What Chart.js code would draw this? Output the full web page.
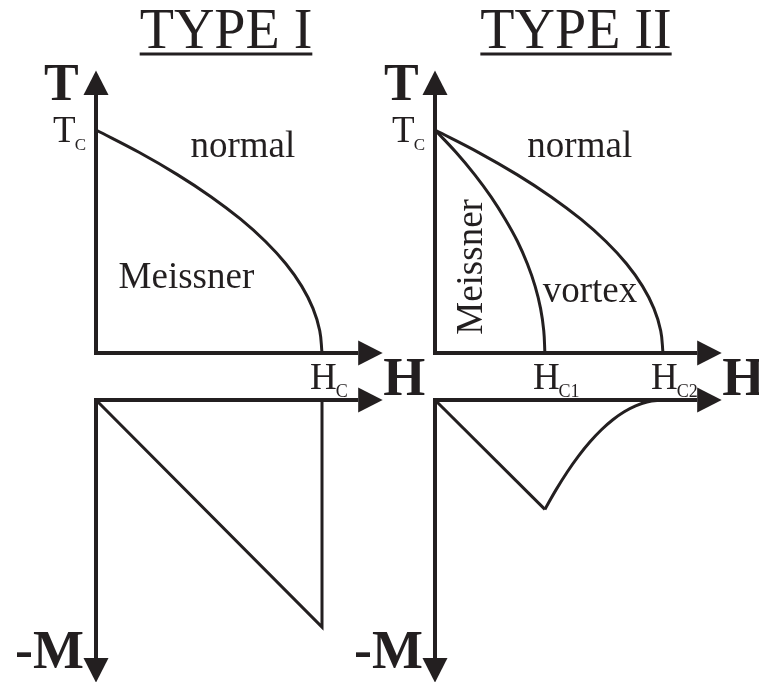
<!DOCTYPE html>
<html><head><meta charset="utf-8">
<script src="https://cdn.jsdelivr.net/npm/chart.js@4.4.1/dist/chart.umd.min.js"></script>
<style>html,body{margin:0;padding:0;background:#fff}#wrap{position:relative;width:759px;height:682px}</style>
</head><body><div id="wrap"><canvas id="c" width="759" height="682"></canvas></div>
<script>
// ---- Type I: critical field boundary (H in units of Hc, T in units of Tc)
const t1T = [1.00, 0.90, 0.80, 0.70, 0.60, 0.50, 0.40, 0.30, 0.20, 0.10, 0.00];
const t1H = [0.00, 0.19, 0.36, 0.51, 0.64, 0.75, 0.84, 0.91, 0.96, 0.99, 1.00];
// ---- Type II: Hc1 and Hc2 boundaries (H in units of Hc2)
const t2T   = [1.00, 0.90, 0.80, 0.70, 0.60, 0.50, 0.40, 0.30, 0.20, 0.10, 0.00];
const t2Hc2 = [0.00, 0.19, 0.36, 0.51, 0.64, 0.75, 0.84, 0.91, 0.96, 0.99, 1.00];
const t2Hc1 = [0.000, 0.092, 0.174, 0.246, 0.308, 0.362, 0.405, 0.439, 0.463, 0.477, 0.482];
// ---- Magnetization -M vs H
const m1H = [0, 1, 1];
const m1M = [0, 1, 0];
const m2LinH = [0, 0.482];
const m2LinM = [0, 0.482];
const m2CurH = [0.482, 0.53, 0.58, 0.63, 0.68, 0.73, 0.78, 0.83, 0.88, 0.93, 1.00];
const m2CurM = [0.482, 0.397, 0.317, 0.246, 0.184, 0.131, 0.087, 0.052, 0.026, 0.009, 0.000];
// ---- Axis extents (arrow bases)
const axT = 1.157, axH1 = 1.16, axH2 = 1.15, axM = 1.137;
// ---- Special field markers
const Hc = 1, Hc1 = 0.482, Hc2 = 1, Tc = 1;

const INK = '#231f20';
const SERIF = '"Liberation Serif","Times New Roman",Times,serif';
const pts = (xs, ys) => xs.map((x, i) => ({x, y: ys[i]}));

function line(data, xAxisID, yAxisID, w, tension, arrows) {
  return {data, xAxisID, yAxisID, borderColor: INK, borderWidth: w, tension,
    pointRadius: 0, showLine: true, fill: false, borderJoinStyle: 'miter', arrows: arrows || null};
}

const datasets = [
  line([{x:0,y:axT},{x:0,y:0},{x:axH1,y:0}], 'x1', 'y1', 4, 0, [0, 2]),
  line([{x:axH1,y:0},{x:0,y:0},{x:0,y:axM}], 'x1', 'y2', 4, 0, [0, 2]),
  line([{x:0,y:axT},{x:0,y:0},{x:axH2,y:0}], 'x2', 'y1', 4, 0, [0, 2]),
  line([{x:axH2,y:0},{x:0,y:0},{x:0,y:axM}], 'x2', 'y2', 4, 0, [0, 2]),
  line(pts(t1H, t1T), 'x1', 'y1', 3, 0.4),
  line(pts(m1H, m1M), 'x1', 'y2', 3, 0),
  line(pts(t2Hc2, t2T), 'x2', 'y1', 3, 0.4),
  line(pts(t2Hc1, t2T), 'x2', 'y1', 3, 0.4),
  line(pts(m2LinH, m2LinM), 'x2', 'y2', 3, 0),
  line(pts(m2CurH, m2CurM), 'x2', 'y2', 3, 0.4),
];

const arrowPlugin = {
  id: 'arrows',
  afterDatasetsDraw(chart) {
    const ctx = chart.ctx;
    chart.data.datasets.forEach((ds, di) => {
      if (!ds.arrows) return;
      const m = chart.getDatasetMeta(di).data;
      const corner = m[1];
      ds.arrows.forEach(i => {
        const p = m[i];
        let dx = p.x - corner.x, dy = p.y - corner.y;
        const L = Math.hypot(dx, dy); dx /= L; dy /= L;
        const len = 24.5, hw = 12.5;
        const tx = p.x + dx * len, ty = p.y + dy * len;
        ctx.save();
        ctx.fillStyle = INK;
        ctx.beginPath();
        ctx.moveTo(tx, ty);
        ctx.lineTo(p.x - dy * hw, p.y + dx * hw);
        ctx.lineTo(p.x + dy * hw, p.y - dx * hw);
        ctx.closePath();
        ctx.fill();
        ctx.restore();
      });
    });
  }
};

const labelPlugin = {
  id: 'labels',
  afterDraw(chart) {
    const ctx = chart.ctx, s = chart.scales;
    const X1 = v => s.x1.getPixelForValue(v), X2 = v => s.x2.getPixelForValue(v);
    const Y1 = v => s.y1.getPixelForValue(v), Y2 = v => s.y2.getPixelForValue(v);
    ctx.save();
    ctx.fillStyle = INK;
    ctx.textBaseline = 'alphabetic';
    const txt = (str, x, y, font, align) => { ctx.font = font; ctx.textAlign = align || 'left'; ctx.fillText(str, x, y); return ctx.measureText(str).width; };
    // titles with underline
    [['TYPE I', 226], ['TYPE II', 576]].forEach(([t, cx]) => {
      const w = txt(t, cx, 48, `56px ${SERIF}`, 'center');
      ctx.fillRect(cx - w / 2, 52.5, w, 3);
    });
    // axis names
    txt('T', X1(0) - 52, 100, `bold 52px ${SERIF}`);
    txt('T', X2(0) - 51, 100, `bold 52px ${SERIF}`);
    txt('H', X1(axH1) + 25, Y1(0) + 42, `bold 54px ${SERIF}`);
    txt('H', X2(axH2) + 25, Y1(0) + 42, `bold 54px ${SERIF}`);
    txt('-M', X1(0) - 12, 668, `bold 54px ${SERIF}`, 'right');
    txt('-M', X2(0) - 12, 668, `bold 54px ${SERIF}`, 'right');
    // Tc labels
    [X1, X2].forEach(X => {
      ctx.font = `37px ${SERIF}`; const wT = ctx.measureText('T').width;
      ctx.font = `17px ${SERIF}`; const wC = ctx.measureText('C').width;
      const x0 = X(0) - 10 - wT - wC + 1;
      txt('T', x0, Y1(Tc) + 12, `37px ${SERIF}`);
      txt('C', x0 + wT - 1, Y1(Tc) + 20, `17px ${SERIF}`);
    });
    // H critical labels
    const hLab = (x, sub) => {
      const w = txt('H', x - 12, Y1(0) + 36, `37px ${SERIF}`);
      txt(sub, x - 12 + w - 1, Y1(0) + 44, `18px ${SERIF}`);
    };
    hLab(X1(Hc), 'C');
    hLab(X2(Hc1), 'C1');
    hLab(X2(Hc2), 'C2');
    // region labels
    txt('normal', X1(0.65), Y1(0.879), `37px ${SERIF}`, 'center');
    txt('Meissner', X1(0.40), Y1(0.291), `37px ${SERIF}`, 'center');
    txt('normal', X2(0.635), Y1(0.879), `37px ${SERIF}`, 'center');
    txt('vortex', X2(0.680), Y1(0.229), `37px ${SERIF}`, 'center');
    ctx.save();
    ctx.translate(X2(0.206), Y1(0.386));
    ctx.rotate(-Math.PI / 2);
    txt('Meissner', 0, 0, `37px ${SERIF}`, 'center');
    ctx.restore();
    ctx.restore();
  }
};

const hid = (min, max, axis, reverse) => ({type: 'linear', axis, display: false, min, max, reverse: !!reverse});

new Chart(document.getElementById('c'), {
  type: 'scatter',
  data: {datasets},
  options: {
    responsive: false,
    animation: false,
    layout: {padding: 0},
    plugins: {legend: {display: false}, tooltip: {enabled: false}},
    events: [],
    scales: {
      x1: hid(-0.4248, 2.9336, 'x'),
      x2: hid(-1.9079, 1.4211, 'x'),
      y1: hid(-1.4753, 1.5830, 'y'),
      y2: hid(-1.7621, 1.2423, 'y', true)
    }
  },
  plugins: [arrowPlugin, labelPlugin]
});
</script></body></html>
